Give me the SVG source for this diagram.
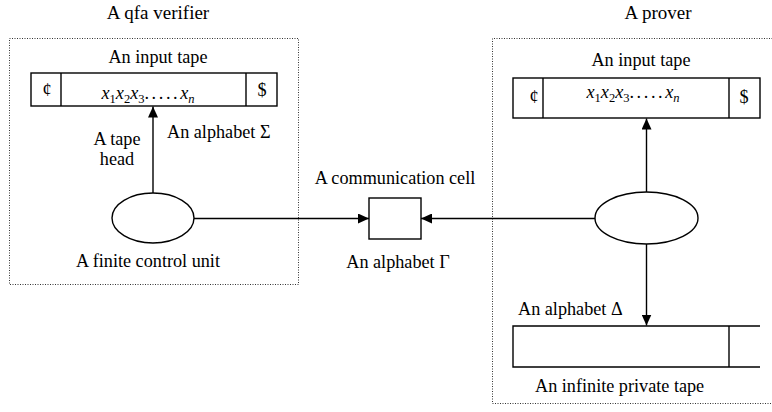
<svg xmlns="http://www.w3.org/2000/svg" width="772" height="412" viewBox="0 0 772 412" font-family="'Liberation Serif', 'DejaVu Serif', serif">
<style>
text{font-family:'Liberation Serif','DejaVu Serif',serif;font-size:18.2px;fill:#000}
.t{font-size:19px}
.c{text-anchor:middle}
.i{font-style:italic}
.s{font-size:12.5px}
.d{letter-spacing:2.6px}
.frame{fill:none;stroke:#333;stroke-width:1;stroke-dasharray:1 1.5}
.box{fill:#fff;stroke:#000;stroke-width:1.4}
.ln{fill:none;stroke:#000;stroke-width:1.4}
</style>
<defs>
<marker id="ah" markerWidth="12" markerHeight="10" refX="11" refY="5" orient="auto" markerUnits="userSpaceOnUse">
<path d="M0,0 L11,5 L0,10 Z" fill="#000"/>
</marker>
</defs>
<rect width="772" height="412" fill="#fff"/>

<g id="verifier">
<text class="c t" x="158" y="19">A qfa verifier</text>
<path class="frame" d="M9.5,38.5 H298.5 V284.5 H9.5 Z"/>
</g>
<g id="prover">
<text class="c t" x="658" y="19">A prover</text>
<path class="frame" d="M775,38.5 H492.5 V403.5 H775"/>
</g>

<g id="verifier-tape">
<text class="c" x="158" y="63">An input tape</text>
<rect class="box" x="31" y="73" width="246" height="33"/>
<line class="ln" x1="61" y1="73" x2="61" y2="106"/>
<line class="ln" x1="246" y1="73" x2="246" y2="106"/>
<text class="c" x="47" y="96">¢</text>
<text class="c" x="262" y="96">$</text>
<text class="c" x="148" y="99"><tspan class="i">x</tspan><tspan class="s" dy="4">1</tspan><tspan class="i" dy="-4">x</tspan><tspan class="s" dy="4">2</tspan><tspan class="i" dy="-4">x</tspan><tspan class="s" dy="4">3</tspan><tspan class="d" dy="-4">.....</tspan><tspan class="i">x</tspan><tspan class="s i" dy="4">n</tspan></text>
</g>

<g id="verifier-control">
<ellipse class="box" cx="153" cy="218" rx="41" ry="25"/>
<text class="c" x="148" y="267">A finite control unit</text>
</g>

<g id="comm-cell">
<text class="c" x="395" y="184">A communication cell</text>
<rect class="box" x="369" y="198" width="52" height="41"/>
<text class="c" x="398" y="268">An alphabet Γ</text>
</g>

<g id="prover-tape">
<text class="c" x="641" y="66">An input tape</text>
<rect class="box" x="513" y="78" width="247" height="40"/>
<line class="ln" x1="543" y1="78" x2="543" y2="118"/>
<line class="ln" x1="729" y1="78" x2="729" y2="118"/>
<text class="c" x="534" y="103">¢</text>
<text class="c" x="744" y="103">$</text>
<text class="c" x="633" y="98"><tspan class="i">x</tspan><tspan class="s" dy="4">1</tspan><tspan class="i" dy="-4">x</tspan><tspan class="s" dy="4">2</tspan><tspan class="i" dy="-4">x</tspan><tspan class="s" dy="4">3</tspan><tspan class="d" dy="-4">.....</tspan><tspan class="i">x</tspan><tspan class="s i" dy="4">n</tspan></text>
</g>

<g id="prover-control">
<ellipse class="box" cx="646.5" cy="218" rx="51.5" ry="26"/>
</g>

<g id="private-tape">
<text x="518" y="315">An alphabet Δ</text>
<path class="ln" d="M760,326 H513 V367 H760"/>
<line class="ln" x1="729" y1="326" x2="729" y2="367"/>
<text x="535" y="392">An infinite private tape</text>
</g>

<g id="connectors">
<line class="ln" x1="153" y1="193" x2="153" y2="106.5" marker-end="url(#ah)"/>
<text class="c" x="117" y="145">A tape</text>
<text class="c" x="117" y="165">head</text>
<text x="167" y="138">An alphabet Σ</text>
<line class="ln" x1="194" y1="218.5" x2="369" y2="218.5" marker-end="url(#ah)"/>
<line class="ln" x1="595" y1="218.5" x2="421" y2="218.5" marker-end="url(#ah)"/>
<line class="ln" x1="646.5" y1="192" x2="646.5" y2="118.5" marker-end="url(#ah)"/>
<line class="ln" x1="646.5" y1="244" x2="646.5" y2="325.5" marker-end="url(#ah)"/>
</g>
</svg>
